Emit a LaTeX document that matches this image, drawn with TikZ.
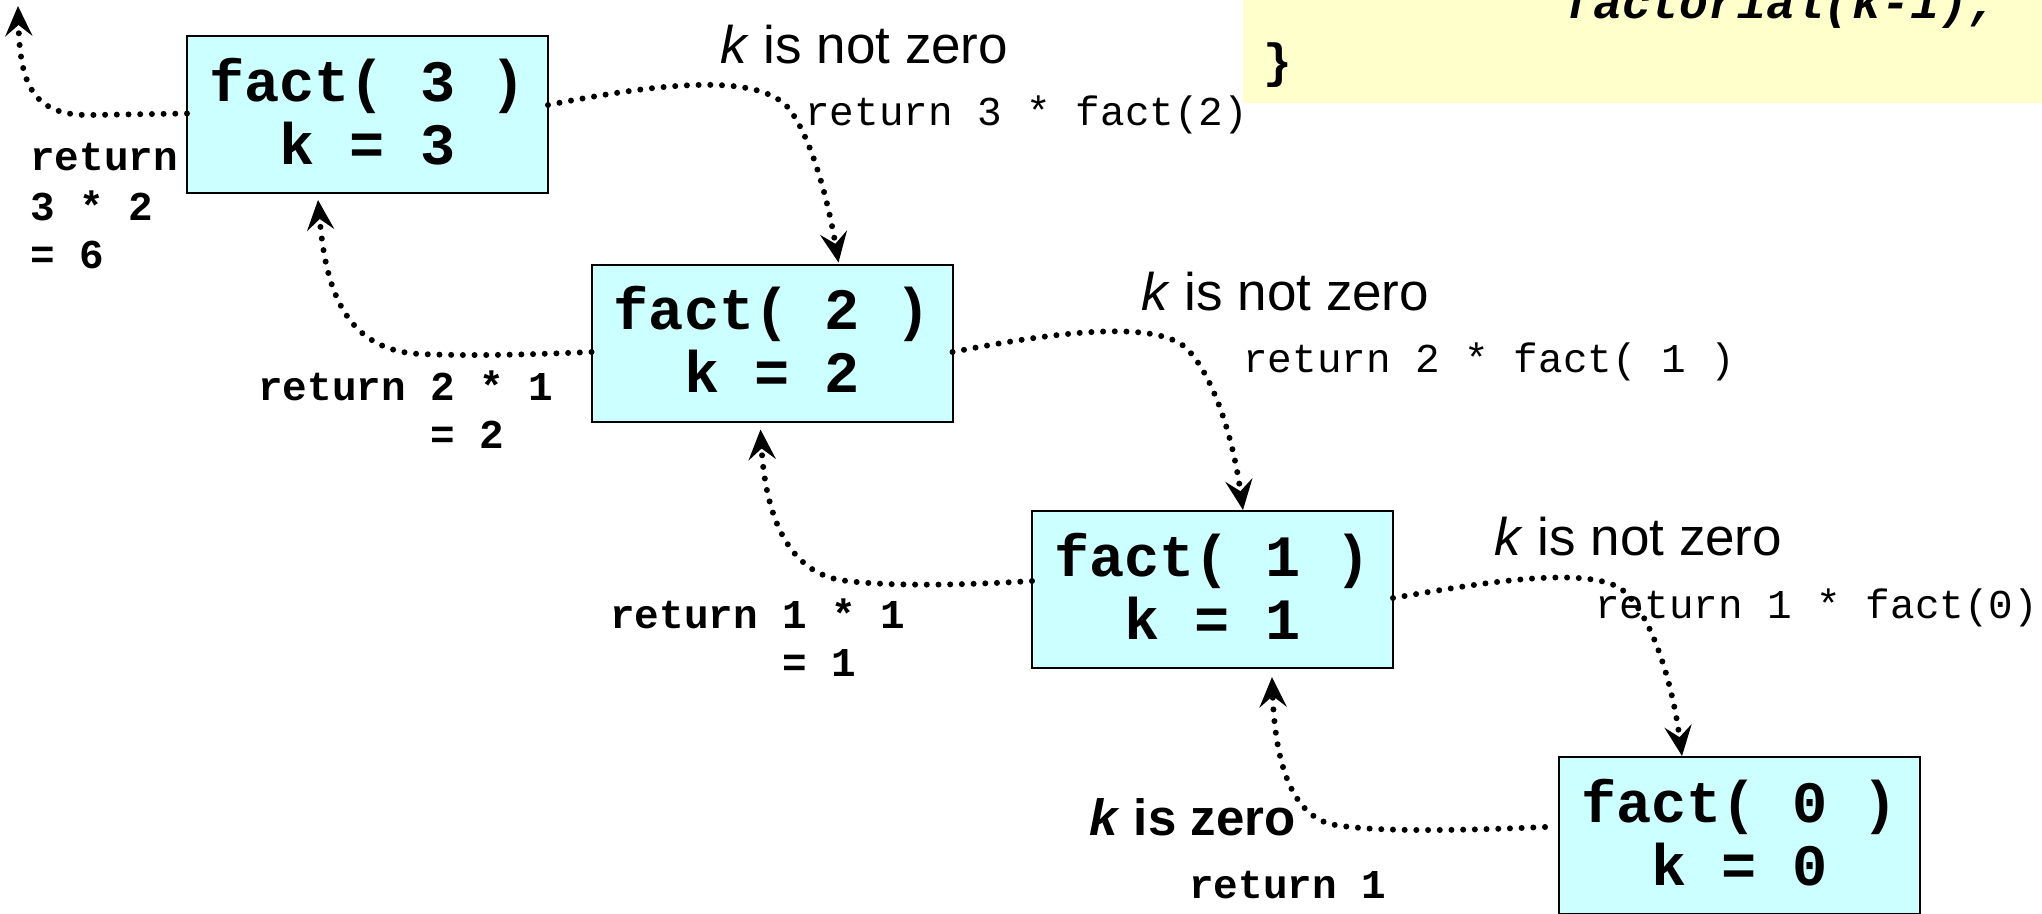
\documentclass[tikz,border=0pt]{standalone}
\usepackage{fontspec}
\setmainfont{Liberation Sans}
\newfontfamily\cour{Liberation Mono}
\newfontfamily\arial{Liberation Sans}
\usetikzlibrary{arrows.meta,calc}
\definecolor{boxcyan}{HTML}{CCFFFF}
\definecolor{codeyellow}{HTML}{FFFFCC}
\begin{document}
\begin{tikzpicture}[x=1pt,y=-1pt,
  factbox/.style={draw=black,line width=2pt,fill=boxcyan,minimum width=361pt,minimum height=157pt,inner sep=0pt,outer sep=0pt},
  boxtxt/.style={anchor=base,inner sep=0pt,font=\cour\bfseries\fontsize{58.6}{64}\selectfont},
  bret/.style={anchor=base west,inner sep=0pt,font=\cour\bfseries\fontsize{41}{49}\selectfont},
  rret/.style={anchor=base west,inner sep=0pt,font=\cour\fontsize{41}{49}\selectfont},
  cond/.style={anchor=base west,inner sep=0pt,font=\arial\fontsize{53}{60}\selectfont},
  codetxt/.style={inner sep=0pt,font=\cour\bfseries\fontsize{48}{56}\selectfont},
  flow/.style={line width=6pt,line cap=round,dash pattern=on 0pt off 11.7pt,-{Stealth[length=30pt,width=27pt,inset=11pt]}},
]
\clip (0,0) rectangle (2042,913);
\node[fill=codeyellow,minimum width=799pt,minimum height=103pt,anchor=north west,inner sep=0pt,outer sep=0pt] (code) at (1243,0) {};
\node[codetxt,anchor=base east] (codeA) at (1997,18) {\itshape factorial(k-1);};
\node[codetxt,anchor=base west] (codeB) at (1263,77) {\}};

\node[factbox] (f3) at (367.5,114.5) {};
\node[factbox] (f2) at (772,343) {};
\node[factbox] (f1) at (1212.5,589.5) {};
\node[factbox] (f0) at (1739.5,835.5) {};

\node[boxtxt] (f3a) at ($(f3.north)+(0,65)$) {fact( 3 )};
\node[boxtxt] (f3b) at ($(f3.north)+(0,128)$) {k = 3};
\node[boxtxt] (f2a) at ($(f2.north)+(0,65)$) {fact( 2 )};
\node[boxtxt] (f2b) at ($(f2.north)+(0,128)$) {k = 2};
\node[boxtxt] (f1a) at ($(f1.north)+(0,65)$) {fact( 1 )};
\node[boxtxt] (f1b) at ($(f1.north)+(0,128)$) {k = 1};
\node[boxtxt] (f0a) at ($(f0.north)+(0,65)$) {fact( 0 )};
\node[boxtxt] (f0b) at ($(f0.north)+(0,128)$) {k = 0};

\node[bret] (r3a) at (30,170) {return};
\node[bret] (r3b) at (30,220) {3 * 2};
\node[bret] (r3c) at (30,268) {= 6};
\node[bret] (r2a) at (258,400) {return 2 * 1};
\node[bret] (r2b) at (430,448) {= 2};
\node[bret] (r1a) at (610,628) {return 1 * 1};
\node[bret] (r1b) at (782,676) {= 1};
\node[bret] (r0) at (1189,898) {return 1};

\node[rret] (c3) at (805,125) {return 3 * fact(2)};
\node[rret] (c2) at (1243,372) {return 2 * fact( 1 )};
\node[rret] (c1) at (1595,618) {return 1 * fact(0)};

\node[cond] (k3) at (720,63) {\textit{k} is not zero};
\node[cond] (k2) at (1141,310) {\textit{k} is not zero};
\node[cond] (k1) at (1494,555) {\textit{k} is not zero};
\node[cond,font=\arial\bfseries\fontsize{51}{60}\selectfont] (k0) at (1089,835) {\textit{k} is zero};

\coordinate (out3) at (18,6);
\draw[flow] ($(f3.west)+(0,-1)$) -- (90,115) .. controls (30,116) and (20,80) .. (out3);
\draw[flow] ($(f3.east)+(0,-9.5)$) .. controls (650,85) and (760,70) .. (790,110) .. controls (812,140) and (828,200) .. ($(f2.north west)+(247,-2)$);
\draw[flow] ($(f2.west)+(0,9)$) .. controls (520,355) and (470,356) .. (420,354) .. controls (340,350) and (325,280) .. ($(f3.south west)+(131,7)$);
\draw[flow] ($(f2.east)+(0,9)$) .. controls (1040,335) and (1150,318) .. (1185,347) .. controls (1210,370) and (1232,430) .. ($(f1.north west)+(211,-1)$);
\draw[flow] ($(f1.west)+(0,-8.5)$) .. controls (950,586) and (880,586) .. (840,580) .. controls (785,570) and (765,510) .. ($(f2.south west)+(169,8)$);
\draw[flow] ($(f1.east)+(0,8.5)$) .. controls (1470,585) and (1580,565) .. (1620,588) .. controls (1650,610) and (1672,680) .. ($(f0.north west)+(123,-1)$);
\draw[flow] ($(f0.west)+(-14,-8.5)$) .. controls (1450,831) and (1370,832) .. (1330,824) .. controls (1290,812) and (1275,760) .. ($(f1.south west)+(240,9)$);
\end{tikzpicture}
\end{document}
